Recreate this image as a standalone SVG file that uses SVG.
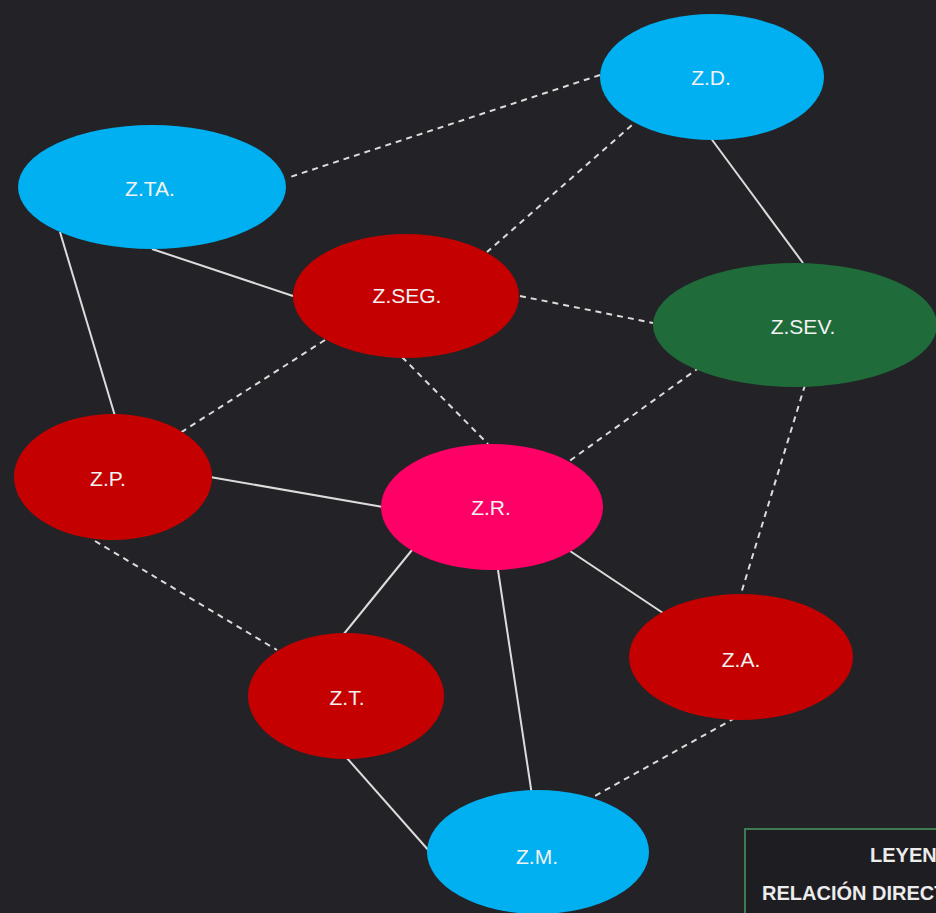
<svg xmlns="http://www.w3.org/2000/svg" width="936" height="913" viewBox="0 0 936 913">
  <style>
    .bg { fill: #232327; }
    .solid { stroke: #dcdcdc; stroke-width: 2; fill: none; }
    .dash { stroke: #dcdcdc; stroke-width: 2; fill: none; stroke-dasharray: 6 5; }
    .blue { fill: #00b0f0; }
    .red { fill: #c50000; }
    .pink { fill: #ff0066; }
    .green { fill: #1f6b3a; }
    .lbl { font-family: "Liberation Sans", Arial, sans-serif; font-size: 21px; fill: #f2f2f2; text-anchor: middle; dominant-baseline: central; }
    .leg { font-family: "Liberation Sans", Arial, sans-serif; font-size: 20px; font-weight: bold; fill: #ececec; }
  </style>
  <rect class="bg" x="0" y="0" width="936" height="913"/>
  <g id="connectors">
    <line class="dash" x1="600" y1="75" x2="287" y2="178"/>
    <line class="dash" x1="640" y1="118" x2="487" y2="252"/>
    <line class="dash" x1="520" y1="296" x2="653" y2="323"/>
    <line class="dash" x1="325" y1="340" x2="180" y2="433"/>
    <line class="dash" x1="402" y1="357" x2="488" y2="444"/>
    <line class="dash" x1="700" y1="367" x2="568" y2="462"/>
    <line class="dash" x1="805" y1="385" x2="740" y2="597"/>
    <line class="dash" x1="95" y1="541" x2="277" y2="650"/>
    <line class="dash" x1="735" y1="718" x2="593" y2="797"/>
    <line class="solid" x1="710" y1="137" x2="803" y2="263"/>
    <line class="solid" x1="152" y1="249" x2="293" y2="296"/>
    <line class="solid" x1="60" y1="232" x2="115" y2="416"/>
    <line class="solid" x1="210" y1="477" x2="383" y2="507"/>
    <line class="solid" x1="412" y1="550" x2="343" y2="635"/>
    <line class="solid" x1="498" y1="570" x2="533" y2="802"/>
    <line class="solid" x1="570" y1="551" x2="663" y2="613"/>
    <line class="solid" x1="346" y1="757" x2="430" y2="852"/>
  </g>
  <g id="zd"><ellipse class="blue" cx="712" cy="77" rx="112" ry="63"/><text class="lbl" x="711" y="77">Z.D.</text></g>
  <g id="zta"><ellipse class="blue" cx="152" cy="187" rx="134" ry="62"/><text class="lbl" x="150" y="188">Z.TA.</text></g>
  <g id="zseg"><ellipse class="red" cx="406" cy="296" rx="113" ry="62"/><text class="lbl" x="407" y="295">Z.SEG.</text></g>
  <g id="zsev"><ellipse class="green" cx="795" cy="325" rx="142" ry="62"/><text class="lbl" x="803" y="326">Z.SEV.</text></g>
  <g id="zp"><ellipse class="red" cx="113" cy="477" rx="99" ry="63"/><text class="lbl" x="108" y="478">Z.P.</text></g>
  <g id="zr"><ellipse class="pink" cx="492" cy="507" rx="111" ry="63"/><text class="lbl" x="491" y="507">Z.R.</text></g>
  <g id="zt"><ellipse class="red" cx="346" cy="696" rx="98" ry="63"/><text class="lbl" x="347" y="697">Z.T.</text></g>
  <g id="za"><ellipse class="red" cx="741" cy="657" rx="112" ry="63"/><text class="lbl" x="741" y="659">Z.A.</text></g>
  <g id="zm"><ellipse class="blue" cx="538" cy="852" rx="111" ry="62"/><text class="lbl" x="537" y="856">Z.M.</text></g>
  <g id="legend">
    <rect x="745" y="829" width="220" height="120" fill="#1e1e22" stroke="#3f7a52" stroke-width="2"/>
    <text class="leg" x="870" y="862">LEYENDA</text>
    <text class="leg" x="762" y="900">RELACIÓN DIRECTA</text>
  </g>
</svg>
